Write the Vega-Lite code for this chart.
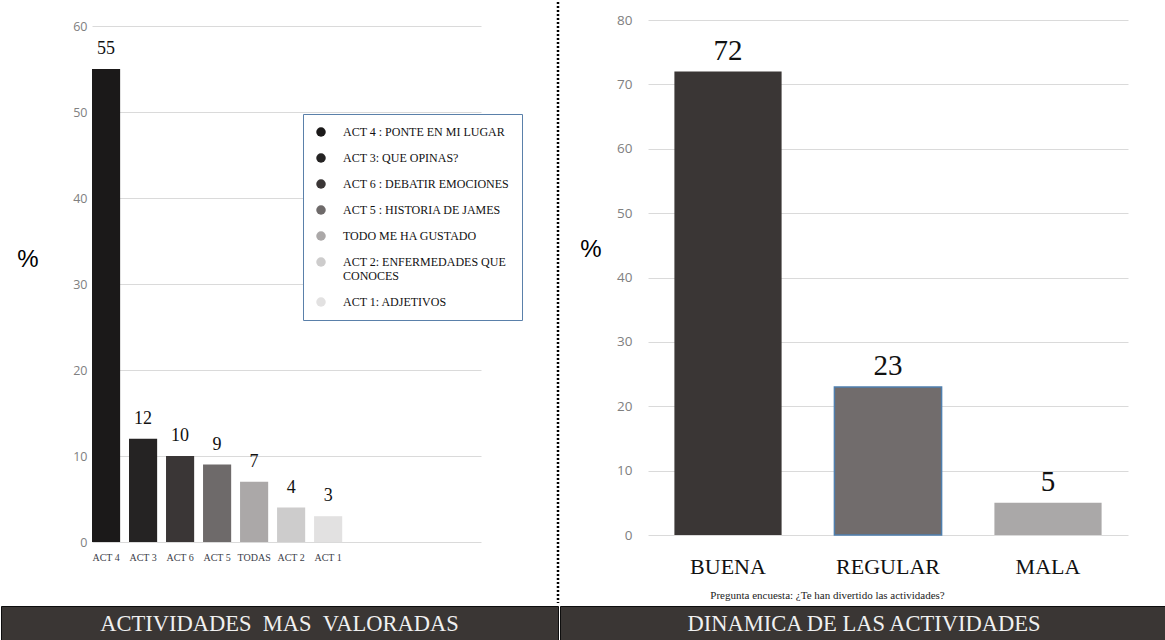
{
  "$schema": "https://vega.github.io/schema/vega-lite/v6.json",
  "background": "white",
  "padding": 0,
  "spacing": 0,
  "config": {
    "view": {"stroke": null},
    "axis": {"ticks": false, "tickSize": 0, "domain": false, "gridColor": "#dadada", "gridWidth": 1}
  },
  "vconcat": [
    {
      "bounds": "flush",
      "spacing": 77,
      "resolve": {"scale": {"color": "independent"}, "legend": {"color": "independent"}},
      "hconcat": [
        {
          "width": 14,
          "height": 540,
          "data": {"values": []},
          "mark": {"type": "rule"},
          "encoding": {}
        },
        {
          "width": 389,
          "height": 540,
          "data": {
            "values": [
              {"act": "ACT 4", "nombre": "ACT 4 : PONTE EN MI LUGAR", "pct": 55},
              {"act": "ACT 3", "nombre": "ACT 3: QUE OPINAS?", "pct": 12},
              {"act": "ACT 6", "nombre": "ACT 6 : DEBATIR EMOCIONES", "pct": 10},
              {"act": "ACT 5", "nombre": "ACT 5 : HISTORIA DE JAMES", "pct": 9},
              {"act": "TODAS", "nombre": "TODO ME HA GUSTADO", "pct": 7},
              {"act": "ACT 2", "nombre": "ACT 2: ENFERMEDADES QUE CONOCES", "pct": 4},
              {"act": "ACT 1", "nombre": "ACT 1: ADJETIVOS", "pct": 3}
            ]
          },
          "encoding": {
            "x": {
              "field": "act",
              "type": "nominal",
              "sort": null,
              "scale": {
                "domain": ["ACT 4", "ACT 3", "ACT 6", "ACT 5", "TODAS", "ACT 2", "ACT 1", " ", "  ", "   "],
                "paddingInner": 0.24,
                "paddingOuter": 0.375,
                "align": 0
              },
              "axis": {
                "title": null,
                "labelAngle": 0,
                "labelFont": "Liberation Serif",
                "labelFontSize": 10,
                "labelColor": "#3a3d48",
                "labelPadding": 10
              }
            },
            "y": {
              "field": "pct",
              "type": "quantitative",
              "scale": {"domain": [0, 62.8], "nice": false},
              "axis": {
                "values": [0, 10, 20, 30, 40, 50, 60],
                "labelFont": "Open Sans",
                "labelFontSize": 12.5,
                "labelColor": "#808080",
                "labelPadding": 5,
                "title": "%",
                "titleAngle": 0,
                "titleAlign": "right",
                "titleBaseline": "middle",
                "titleX": -54,
                "titleY": 257,
                "titleFont": "Liberation Sans",
                "titleFontSize": 24,
                "titleFontWeight": "normal",
                "titleColor": "#000000"
              }
            }
          },
          "layer": [
            {
              "mark": {"type": "bar"},
              "encoding": {
                "color": {
                  "field": "nombre",
                  "type": "nominal",
                  "sort": null,
                  "scale": {
                    "domain": [
                      "ACT 4 : PONTE EN MI LUGAR",
                      "ACT 3: QUE OPINAS?",
                      "ACT 6 : DEBATIR EMOCIONES",
                      "ACT 5 : HISTORIA DE JAMES",
                      "TODO ME HA GUSTADO",
                      "ACT 2: ENFERMEDADES QUE CONOCES",
                      "ACT 1: ADJETIVOS"
                    ],
                    "range": ["#1b1919", "#252323", "#3a3636", "#6e6a6a", "#aba8a8", "#cdcccc", "#e2e1e1"]
                  },
                  "legend": {
                    "title": null,
                    "orient": "none",
                    "legendX": 211,
                    "legendY": 112,
                    "fillColor": "white",
                    "strokeColor": "#5a80aa",
                    "padding": 12,
                    "symbolType": "circle",
                    "symbolSize": 90,
                    "symbolStrokeWidth": 0,
                    "labelFont": "Liberation Serif",
                    "labelFontSize": 12,
                    "labelColor": "#111111",
                    "labelOffset": 16,
                    "labelLimit": 400,
                    "rowPadding": 14,
                    "labelExpr": "datum.label == 'ACT 2: ENFERMEDADES QUE CONOCES' ? ['ACT 2: ENFERMEDADES QUE', 'CONOCES'] : datum.label"
                  }
                }
              }
            },
            {
              "mark": {"type": "text", "font": "Liberation Serif", "fontSize": 18, "baseline": "middle", "dy": -20, "color": "#111111"},
              "encoding": {"text": {"field": "pct", "type": "quantitative"}}
            }
          ]
        },
        {
          "width": 13,
          "height": 601,
          "data": {"values": [{"separador": "paneles"}]},
          "mark": {"type": "rule", "strokeDash": [2, 2], "strokeWidth": 2.5, "color": "#000000"},
          "encoding": {"x": {"value": 0}}
        },
        {
          "width": 480,
          "height": 533,
          "data": {
            "values": [
              {"dinamica": "BUENA", "pct": 72},
              {"dinamica": "REGULAR", "pct": 23},
              {"dinamica": "MALA", "pct": 5}
            ]
          },
          "encoding": {
            "x": {
              "field": "dinamica",
              "type": "nominal",
              "sort": null,
              "scale": {"paddingInner": 0.33, "paddingOuter": 0.165},
              "axis": {
                "labelAngle": 0,
                "labelFont": "Liberation Serif",
                "labelFontSize": 22,
                "labelColor": "#111111",
                "labelPadding": 21,
                "title": "Pregunta encuesta: ¿Te han divertido las actividades?",
                "titleFont": "Liberation Serif",
                "titleFontSize": 11,
                "titleFontWeight": "normal",
                "titleColor": "#222222",
                "titleX": 179,
                "titleY": 60,
                "titleAlign": "center",
                "titleBaseline": "middle"
              }
            },
            "y": {
              "field": "pct",
              "type": "quantitative",
              "scale": {"domain": [0, 82.8], "nice": false},
              "axis": {
                "values": [0, 10, 20, 30, 40, 50, 60, 70, 80],
                "labelFont": "Open Sans",
                "labelFontSize": 13.5,
                "labelColor": "#808080",
                "labelPadding": 16,
                "title": "%",
                "titleAngle": 0,
                "titleAlign": "right",
                "titleBaseline": "middle",
                "titleX": -47,
                "titleY": 247,
                "titleFont": "Liberation Sans",
                "titleFontSize": 24,
                "titleFontWeight": "normal",
                "titleColor": "#000000"
              }
            }
          },
          "layer": [
            {
              "mark": {"type": "bar", "strokeWidth": 1.5},
              "encoding": {
                "color": {
                  "field": "dinamica",
                  "type": "nominal",
                  "scale": {"domain": ["BUENA", "REGULAR", "MALA"], "range": ["#3a3635", "#716c6c", "#aaa8a8"]},
                  "legend": null
                },
                "stroke": {
                  "condition": {"test": "datum.dinamica === 'REGULAR'", "value": "#4f7fae"},
                  "value": "transparent"
                }
              }
            },
            {
              "mark": {"type": "text", "font": "Liberation Serif", "fontSize": 29, "baseline": "middle", "dy": -21, "color": "#111111"},
              "encoding": {"text": {"field": "pct", "type": "quantitative"}}
            }
          ]
        }
      ]
    },
    {
      "spacing": 0,
      "hconcat": [
        {
          "width": 557,
          "height": 35,
          "view": {"fill": "#3a3634", "stroke": "#0d0d0d", "strokeWidth": 1},
          "data": {"values": [{"seccion": "ACTIVIDADES\u00a0\u00a0MAS\u00a0\u00a0VALORADAS"}]},
          "mark": {"type": "text", "font": "Liberation Serif", "fontSize": 22.5, "color": "#f0f0f0", "baseline": "middle", "align": "center"},
          "encoding": {"text": {"field": "seccion", "type": "nominal"}}
        },
        {
          "width": 608,
          "height": 35,
          "view": {"fill": "#3a3634", "stroke": "#0d0d0d", "strokeWidth": 1},
          "data": {"values": [{"seccion": "DINAMICA DE LAS ACTIVIDADES"}]},
          "mark": {"type": "text", "font": "Liberation Serif", "fontSize": 22.5, "color": "#f0f0f0", "baseline": "middle", "align": "center"},
          "encoding": {"text": {"field": "seccion", "type": "nominal"}}
        }
      ]
    }
  ]
}
